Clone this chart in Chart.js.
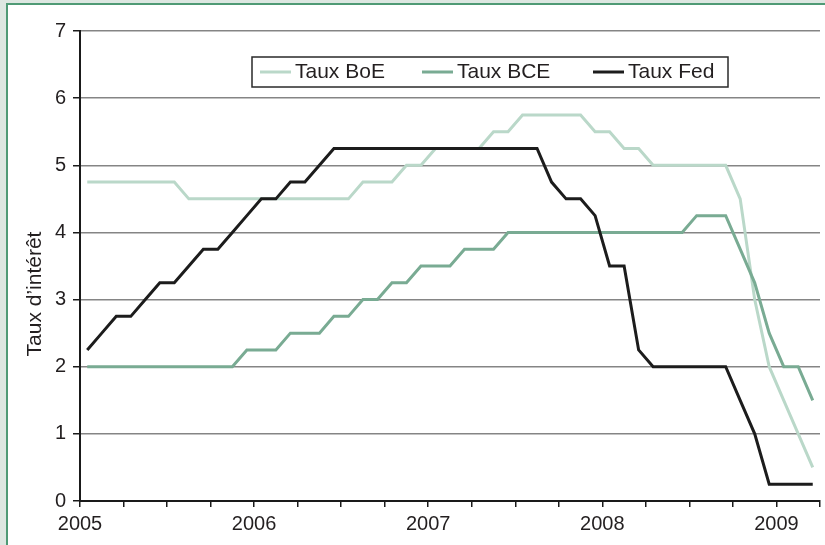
<!DOCTYPE html>
<html lang="fr">
<head>
<meta charset="utf-8">
<title>Taux directeurs BoE, BCE et Fed, 2005–2009</title>
<script src="https://cdn.jsdelivr.net/npm/chart.js@4.4.1/dist/chart.umd.min.js"></script>
<style>
  html, body { margin: 0; padding: 0; }
  body { width: 825px; height: 545px; background: #dde7e1; position: relative; overflow: hidden; }
  .panel { position: absolute; left: 6px; top: 3px; right: 0; bottom: 0; background: #ffffff;
           border-left: 2px solid #4f9a75; border-top: 2px solid #4f9a75; }
  canvas { position: absolute; left: 0; top: 0; }
</style>
</head>
<body>
<div class="panel"></div>
<canvas id="chart" width="825" height="545"></canvas>
<script>
// Monthly policy rates (end of month), January 2005 to March 2009
const months = [
  '2005-01','2005-02','2005-03','2005-04','2005-05','2005-06','2005-07','2005-08','2005-09','2005-10','2005-11','2005-12',
  '2006-01','2006-02','2006-03','2006-04','2006-05','2006-06','2006-07','2006-08','2006-09','2006-10','2006-11','2006-12',
  '2007-01','2007-02','2007-03','2007-04','2007-05','2007-06','2007-07','2007-08','2007-09','2007-10','2007-11','2007-12',
  '2008-01','2008-02','2008-03','2008-04','2008-05','2008-06','2008-07','2008-08','2008-09','2008-10','2008-11','2008-12',
  '2009-01','2009-02','2009-03'
];

const tauxBoE = [
  4.75, 4.75, 4.75, 4.75, 4.75, 4.75, 4.75, 4.5, 4.5, 4.5, 4.5, 4.5,
  4.5, 4.5, 4.5, 4.5, 4.5, 4.5, 4.5, 4.75, 4.75, 4.75, 5.0, 5.0,
  5.25, 5.25, 5.25, 5.25, 5.5, 5.5, 5.75, 5.75, 5.75, 5.75, 5.75, 5.5,
  5.5, 5.25, 5.25, 5.0, 5.0, 5.0, 5.0, 5.0, 5.0, 4.5, 3.0, 2.0,
  1.5, 1.0, 0.5
];

const tauxBCE = [
  2.0, 2.0, 2.0, 2.0, 2.0, 2.0, 2.0, 2.0, 2.0, 2.0, 2.0, 2.25,
  2.25, 2.25, 2.5, 2.5, 2.5, 2.75, 2.75, 3.0, 3.0, 3.25, 3.25, 3.5,
  3.5, 3.5, 3.75, 3.75, 3.75, 4.0, 4.0, 4.0, 4.0, 4.0, 4.0, 4.0,
  4.0, 4.0, 4.0, 4.0, 4.0, 4.0, 4.25, 4.25, 4.25, 3.75, 3.25, 2.5,
  2.0, 2.0, 1.5
];

const tauxFed = [
  2.25, 2.5, 2.75, 2.75, 3.0, 3.25, 3.25, 3.5, 3.75, 3.75, 4.0, 4.25,
  4.5, 4.5, 4.75, 4.75, 5.0, 5.25, 5.25, 5.25, 5.25, 5.25, 5.25, 5.25,
  5.25, 5.25, 5.25, 5.25, 5.25, 5.25, 5.25, 5.25, 4.75, 4.5, 4.5, 4.25,
  3.5, 3.5, 2.25, 2.0, 2.0, 2.0, 2.0, 2.0, 2.0, 1.5, 1.0, 0.25,
  0.25, 0.25, 0.25
];

const yTicks = [0, 1, 2, 3, 4, 5, 6, 7];
const firstYear = 2005;
const axisTitle = 'Taux d\u2019intérêt';

const FONT = '"Liberation Sans", Arial, Helvetica, sans-serif';
const TEXT = '#231f20';

// Each monthly value sits in the middle of its month on a month-count axis
function toPoints(values) {
  return values.map((v, i) => {
    const [yy, mm] = months[i].split('-').map(Number);
    return { x: (yy - firstYear) * 12 + (mm - 1) + 0.5, y: v };
  });
}

const series = [
  { label: 'Taux BoE', values: tauxBoE, color: '#bad8c9', order: 3 },
  { label: 'Taux BCE', values: tauxBCE, color: '#79ab93', order: 2 },
  { label: 'Taux Fed', values: tauxFed, color: '#1c1c1c', order: 1 }
];

// Boxed legend inside the plot, plus the rotated y-axis title
const decorations = {
  id: 'decorations',
  afterDraw(chart) {
    const ctx = chart.ctx;
    ctx.save();

    // y-axis title
    ctx.translate(35, 294);
    ctx.rotate(-Math.PI / 2);
    ctx.font = '21px ' + FONT;
    ctx.fillStyle = TEXT;
    ctx.textAlign = 'center';
    ctx.textBaseline = 'middle';
    ctx.fillText(axisTitle, 0, 0);
    ctx.restore();

    // legend box
    ctx.save();
    ctx.fillStyle = '#ffffff';
    ctx.fillRect(252, 57, 476, 30);
    ctx.strokeStyle = '#2a2a2a';
    ctx.lineWidth = 1.5;
    ctx.strokeRect(252, 57, 476, 30);

    const itemX = [260, 422, 593];
    ctx.font = '21px ' + FONT;
    ctx.textAlign = 'left';
    ctx.textBaseline = 'middle';
    chart.data.datasets.forEach((ds, i) => {
      const x = itemX[i];
      ctx.strokeStyle = ds.borderColor;
      ctx.lineWidth = 3;
      ctx.beginPath();
      ctx.moveTo(x, 72);
      ctx.lineTo(x + 31, 72);
      ctx.stroke();
      ctx.fillStyle = TEXT;
      ctx.fillText(ds.label, x + 35, 72);
    });
    ctx.restore();
  }
};

new Chart(document.getElementById('chart'), {
  type: 'line',
  data: {
    datasets: series.map(s => ({
      label: s.label,
      data: toPoints(s.values),
      borderColor: s.color,
      backgroundColor: s.color,
      borderWidth: 3,
      pointRadius: 0,
      tension: 0,
      fill: false,
      order: s.order
    }))
  },
  options: {
    responsive: false,
    animation: false,
    devicePixelRatio: 1,
    layout: { padding: { top: 31, right: 4, left: 0, bottom: 0 } },
    plugins: {
      legend: { display: false },
      tooltip: { enabled: false }
    },
    scales: {
      x: {
        type: 'linear',
        min: 0,
        max: months.length,
        afterFit(scale) { scale.height = 44; },
        border: { display: true, color: '#1a1a1a', width: 2 },
        grid: { drawOnChartArea: false, drawTicks: true, tickLength: 6, tickColor: '#1a1a1a', lineWidth: 1.5 },
        ticks: {
          stepSize: 3,
          autoSkip: false,
          maxRotation: 0,
          padding: 5,
          color: TEXT,
          font: { family: FONT, size: 20 },
          callback: v => (v % 12 === 0 ? String(firstYear + v / 12) : '')
        }
      },
      y: {
        min: yTicks[0],
        max: yTicks[yTicks.length - 1],
        afterFit(scale) { scale.width = 80; },
        afterBuildTicks(scale) { scale.ticks = yTicks.map(v => ({ value: v })); },
        border: { display: true, color: '#1a1a1a', width: 2 },
        grid: { color: '#858585', lineWidth: 1.5, drawTicks: true, tickLength: 7, tickColor: '#1a1a1a' },
        ticks: {
          padding: 7,
          color: TEXT,
          font: { family: FONT, size: 20 }
        }
      }
    }
  },
  plugins: [decorations]
});
</script>
</body>
</html>
